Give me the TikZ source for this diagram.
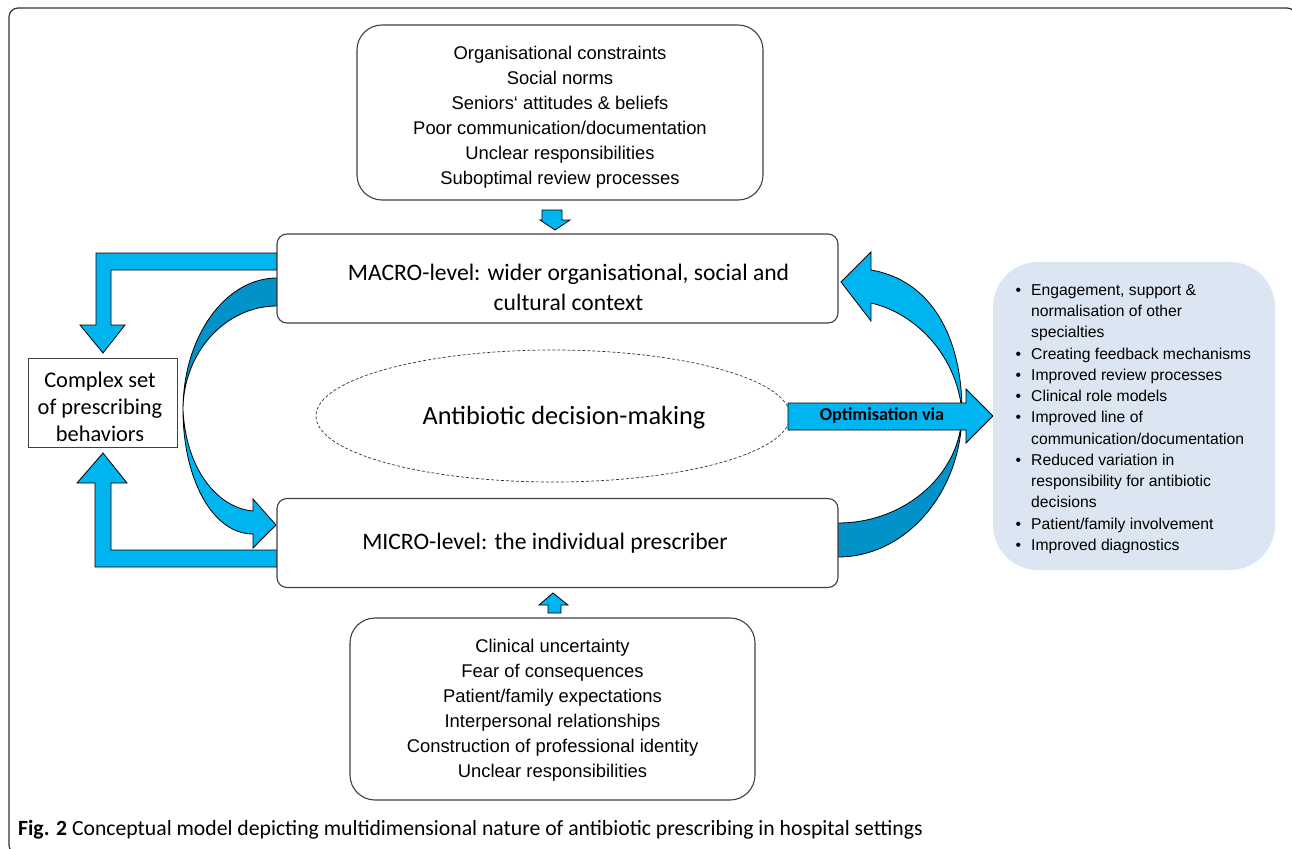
\documentclass[tikz,border=0pt]{standalone}
\usepackage{fontspec}
\setmainfont{Liberation Sans}
\newfontfamily\calfont{Carlito}
\usetikzlibrary{shapes.geometric}
\definecolor{cyanA}{HTML}{00B4F0}
\definecolor{cyanD}{HTML}{0092C8}
\definecolor{panelbg}{HTML}{DCE6F2}
\begin{document}
\begin{tikzpicture}[x=1pt,y=-1pt,
  listbox/.style={draw=black!75, line width=1.1pt, rounded corners=25pt, fill=white, inner sep=0pt},
  levelbox/.style={draw=black!75, line width=1.1pt, rounded corners=10pt, fill=white, minimum width=561pt, minimum height=89pt, inner sep=0pt},
  listtext/.style={align=center, inner sep=0pt, font=\fontsize{18.4}{25}\selectfont},
  leveltext/.style={align=center, inner sep=0pt, font=\calfont\fontsize{23.6}{30}\selectfont},
  blockarrow/.style={draw=black, line width=0.8pt, fill=cyanA, line join=miter},
  darkarrow/.style={blockarrow, fill=cyanD}]
\useasboundingbox (0,0) rectangle (1292,848);
% outer frame
\draw[line width=1.2pt, black!80, rounded corners=9pt] (9,8) rectangle (1296,854);

% left elbow arrows
\draw[blockarrow] (277,253) -- (96,253) -- (96,325) -- (80,325) -- (103,353) -- (125,325) -- (111,325) -- (111,270) -- (277,270) -- cycle;
\draw[blockarrow] (277,567) -- (95,567) -- (95,483) -- (77,483) -- (103,453) -- (127,483) -- (111,483) -- (111,550) -- (277,550) -- cycle;

% left curved arrow (macro -> micro)
\draw[blockarrow] (183,410) .. controls (183,478) and (212,534) .. (253,534) -- (253,548) -- (276,525) -- (253,499) -- (253,511) .. controls (218,508) and (186,470) .. (183,410) -- cycle;
\draw[darkarrow] (277,278) .. controls (225,278) and (183,337) .. (183,410) .. controls (183,353) and (225,306) .. (277,306) -- cycle;

% right curved arrow (micro -> macro)
\draw[darkarrow] (838,557) .. controls (906,557) and (962,492) .. (962,412) .. controls (962,473) and (906,523) .. (838,523) -- cycle;
\draw[blockarrow] (962,412) .. controls (962,335) and (930,280) .. (871,270) -- (871,252) -- (841,282) -- (871,321) -- (871,303) .. controls (915,313) and (957,355) .. (962,412) -- cycle;

% small arrows
\draw[blockarrow] (542,210) -- (562,210) -- (562,220) -- (570,220) -- (555,230) -- (540,220) -- (542,220) -- cycle;
\draw[blockarrow] (548,613) -- (561,613) -- (561,605) -- (568,605) -- (553,593) -- (539,605) -- (548,605) -- cycle;

% boxes
\node[listbox, minimum width=406pt, minimum height=175pt] (top) at (560,112.5) {};
\node[listtext] (toptext) at (560,117.5) {Organisational constraints\\Social norms\\Seniors\symbol{96} attitudes \& beliefs\\Poor communication/documentation\\Unclear responsibilities\\Suboptimal review processes};

\node[levelbox] (macro) at (557.5,278.5) {};
\node[leveltext] (macrotext) at (568.5,287) {MACRO-level: wider organisational, social and\\cultural context};

\node[levelbox] (micro) at (557.5,543) {};
\node[leveltext] (microtext) at (545,543) {MICRO-level: the individual prescriber};

\node[listbox, minimum width=405pt, minimum height=182pt] (bottom) at (552.5,709) {};
\node[listtext] (bottomtext) at (552.5,710.5) {Clinical uncertainty\\Fear of consequences\\Patient/family expectations\\Interpersonal relationships\\Construction of professional identity\\Unclear responsibilities};

\node[draw=black!75, line width=0.9pt, fill=white, minimum width=149pt, minimum height=89pt, inner sep=0pt] (complex) at (102.5,402.5) {};
\node[align=center, inner sep=0pt, font=\calfont\fontsize{22.4}{27}\selectfont] (complextext) at (100,407) {Complex set\\of prescribing\\behaviors};

% ellipse
\node[ellipse, draw=black!80, dashed, dash pattern=on 3pt off 2pt, line width=0.7pt, minimum width=474pt, minimum height=132pt, inner sep=0pt] (adm) at (553,416) {};
\node[inner sep=0pt, font=\calfont\fontsize{26.3}{30}\selectfont] (admtext) at (564,418) {Antibiotic decision-making};

% optimisation arrow
\draw[blockarrow] (788,403) -- (966,403) -- (966,389) -- (993,416) -- (966,443) -- (966,430) -- (788,430) -- cycle;
\node[inner sep=0pt, font=\calfont\bfseries\fontsize{18.2}{20}\selectfont] (opt) at (882,416) {Optimisation via};

% right panel
\node[fill=panelbg, rounded corners=45pt, minimum width=282pt, minimum height=308pt, inner sep=0pt] (panel) at (1134,416) {};
\newcommand{\bul}{\llap{\textbullet\hspace{10pt}}}
\node[anchor=west, align=left, inner sep=0pt, font=\fontsize{15.7}{21.25}\selectfont] (opts) at (1031,419) {\bul Engagement, support \&\\normalisation of other\\specialties\\\bul Creating feedback mechanisms\\\bul Improved review processes\\\bul Clinical role models\\\bul Improved line of\\communication/documentation\\\bul Reduced variation in\\responsibility for antibiotic\\decisions\\\bul Patient/family involvement\\\bul Improved diagnostics};

% caption
\node[anchor=base west, inner sep=0pt, font=\calfont\fontsize{21.7}{23}\selectfont] (cap) at (18,835) {\textbf{Fig. 2} Conceptual model depicting multidimensional nature of antibiotic prescribing in hospital settings};
\end{tikzpicture}
\end{document}
